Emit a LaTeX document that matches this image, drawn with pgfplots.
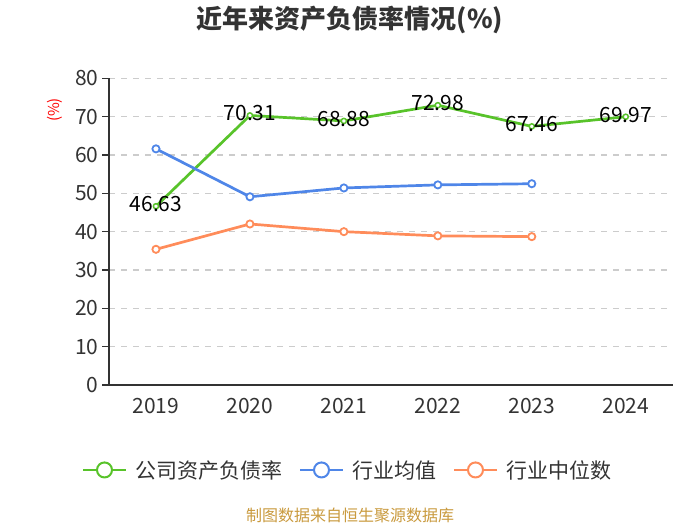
\documentclass[border=0pt]{standalone}
\usepackage{pgfplots}
\pgfplotsset{compat=1.18}
\usepackage{fontspec}
\setmainfont{Noto Sans CJK SC}
\definecolor{cgreen}{HTML}{58C32A}
\definecolor{cblue}{HTML}{4F86E8}
\definecolor{corange}{HTML}{FF8C5A}
\definecolor{ctext}{HTML}{333333}
\definecolor{cgrid}{HTML}{CCCCCC}
\definecolor{csrc}{HTML}{C99A3E}
\begin{document}
\begin{tikzpicture}
\useasboundingbox (0,0) rectangle (700pt,525pt);
\begin{axis}[
  at={(109pt,140pt)}, anchor=south west, scale only axis,
  width=563.7pt, height=306.7pt,
  xmin=-0.5, xmax=5.5, ymin=0, ymax=80,
  axis x line*=bottom, axis y line*=left,
  axis line style={ctext, line width=1.3pt},
  xtick={0,1,2,3,4,5},
  xticklabels={2019,2020,2021,2022,2023,2024},
  x tick style={draw=none},
  xticklabel style={yshift=-3pt},
  extra x ticks={-0.5,0.5,1.5,2.5,3.5,4.5,5.5},
  extra x tick labels={},
  extra x tick style={tick style={ctext, line width=1.3pt, draw=ctext}, major tick length=7pt},
  ytick={0,10,...,80},
  tick align=outside, major tick length=7pt,
  tick style={ctext, line width=1.3pt},
  ymajorgrids, grid style={cgrid, line width=1.2pt, dash pattern=on 6pt off 6pt},
  ticklabel style={font=\fontsize{21}{21}\selectfont, text=ctext},
  /pgf/number format/assume math mode=true,
  clip=false,
  legend style={at={(-0.0479,-0.277)}, anchor=west, draw=none, fill=none,
    inner sep=0pt, outer sep=0pt, legend columns=3,
    font=\fontsize{21}{21}\selectfont, text=ctext,
    /tikz/every odd column/.append style={column sep=6pt},
    /tikz/every even column/.append style={column sep=15pt}},
  legend cell align=left,
  legend image code/.code={
    \draw[#1, line width=2pt] (0pt,0pt) -- (43pt,0pt);
    \draw[#1, fill=white, line width=2pt] (21.5pt,0pt) circle (7.5pt);
  },
]
\addplot[forget plot, cgreen, line width=2.7pt, mark=*, mark size=2.6pt,
  mark options={fill=white, line width=1.5pt},
  nodes near coords,
  nodes near coords style={anchor=center, font=\fontsize{21}{21}\selectfont, text=black, yshift=2pt}]
  coordinates {(0,46.63)(1,70.31)(2,68.88)(3,72.98)(4,67.46)(5,69.97)};
\addplot[forget plot, cblue, line width=2.7pt, mark=*, mark size=3.6pt,
  mark options={fill=white, line width=1.8pt}]
  coordinates {(0,61.6)(1,49.1)(2,51.4)(3,52.2)(4,52.5)};
\addplot[forget plot, corange, line width=2.7pt, mark=*, mark size=3.6pt,
  mark options={fill=white, line width=1.8pt}]
  coordinates {(0,35.4)(1,42.0)(2,40.0)(3,38.9)(4,38.7)};
\addlegendimage{cgreen}
\addlegendentry{公司资产负债率}
\addlegendimage{cblue}
\addlegendentry{行业均值}
\addlegendimage{corange}
\addlegendentry{行业中位数}
\end{axis}
\node[rotate=90, text=red, font=\fontsize{15}{15}\selectfont] at (55pt,415pt) {(\%)};
\node[font=\bfseries\fontsize{26}{26}\selectfont, text=ctext] at (350pt,505pt) {近年来资产负债率情况(\%)};
\node[font=\fontsize{16}{16}\selectfont, text=csrc] at (350pt,10pt) {制图数据来自恒生聚源数据库};
\end{tikzpicture}
\end{document}
